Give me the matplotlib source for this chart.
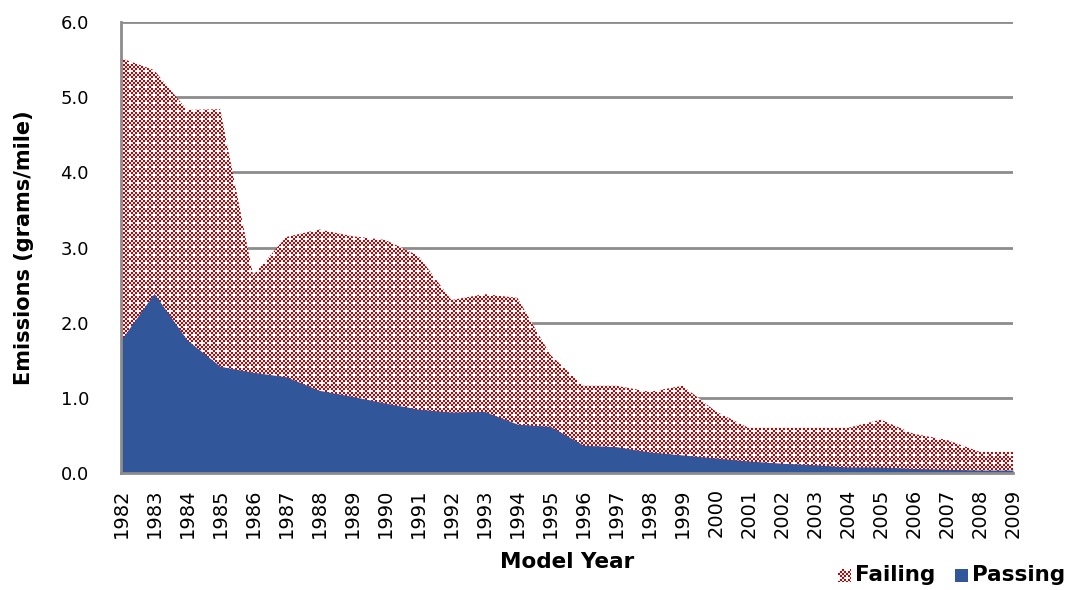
import numpy as np
import matplotlib
matplotlib.use('Agg')
import matplotlib.pyplot as plt

# DATA
years = list(range(1982, 2010))
failing = [5.52, 5.36, 4.83, 4.84, 2.63, 3.14, 3.24, 3.15, 3.10, 2.89,
           2.30, 2.38, 2.33, 1.57, 1.16, 1.16, 1.08, 1.16, 0.82, 0.60,
           0.60, 0.60, 0.60, 0.71, 0.52, 0.44, 0.28, 0.28]
passing = [1.77, 2.39, 1.77, 1.42, 1.34, 1.28, 1.10, 1.02, 0.93, 0.85,
           0.81, 0.82, 0.65, 0.62, 0.37, 0.35, 0.28, 0.24, 0.20, 0.16,
           0.13, 0.11, 0.08, 0.08, 0.06, 0.05, 0.04, 0.04]
yticks = [0, 1, 2, 3, 4, 5, 6]

RED = (0xCC / 255., 0.0, 0.0)
BLUE = '#31569A'
GRID = '#8C8C8C'
W, H = 1071, 590

plt.rcParams['font.family'] = ['DejaVu Sans']

fig = plt.figure(figsize=(W / 100, H / 100), dpi=100)
ax = fig.add_axes([121 / W, 1 - 473 / H, 892 / W, 451 / H])


def checker_pattern(h, w):
    """ red/white 2px checker with a white dot grid """
    yy, xx = np.mgrid[0:h, 0:w]
    red = ((xx // 2 + yy // 2) % 2) == 0
    dots = ((xx % 8) < 2) & ((yy % 8) < 2)
    red = red & ~dots
    img = np.ones((h, w, 3))
    img[red] = RED
    return img


# failing area drawn as a clipped pattern image
poly = ax.fill_between(years, failing, color='none', linewidth=0)
pat = checker_pattern(451, 892)
img = ax.imshow(pat, extent=[years[0], years[-1], 0, 6], aspect='auto',
                interpolation='nearest', zorder=1)
img.set_clip_path(poly.get_paths()[0], transform=ax.transData)

ax.fill_between(years, passing, color=BLUE, linewidth=0, zorder=2)

ax.set_xlim(years[0], years[-1])
ax.set_ylim(0, 6)
ax.set_xticks(years)
ax.set_xticklabels([str(y) for y in years], rotation=90, fontsize=14)
ax.set_yticks(yticks)
ax.set_yticklabels(['%.1f' % v for v in yticks], fontsize=13)
ax.tick_params(axis='y', length=0, pad=23)
ax.tick_params(axis='x', length=0, pad=11)

ax.set_axisbelow(True)
ax.yaxis.grid(True, color=GRID, linewidth=2)
for side in ['top', 'right']:
    ax.spines[side].set_visible(False)
for side in ['left', 'bottom']:
    ax.spines[side].set_color(GRID)
    ax.spines[side].set_linewidth(2)
    ax.spines[side].set_zorder(3)

ax.set_xlabel('Model Year', fontsize=15.5, fontweight='bold', labelpad=10)
ax.set_ylabel('Emissions (grams/mile)', fontsize=15, fontweight='bold', labelpad=19)

# legend, drawn by hand to get the pattern swatch
sw = fig.add_axes([838 / W, 1 - 582 / H, 13 / W, 13 / H])
sw.imshow(checker_pattern(13, 13), interpolation='nearest', aspect='auto')
sw.axis('off')
fig.text(855 / W, 1 - 575 / H, 'Failing', fontsize=15.5, fontweight='bold',
         va='center', ha='left')
sw2 = fig.add_axes([955 / W, 1 - 582 / H, 13 / W, 13 / H])
sw2.set_facecolor(BLUE)
sw2.set_xticks([])
sw2.set_yticks([])
for s in sw2.spines.values():
    s.set_visible(False)
fig.text(972 / W, 1 - 575 / H, 'Passing', fontsize=15.5, fontweight='bold',
         va='center', ha='left')

fig.savefig('out.png', dpi=100)
